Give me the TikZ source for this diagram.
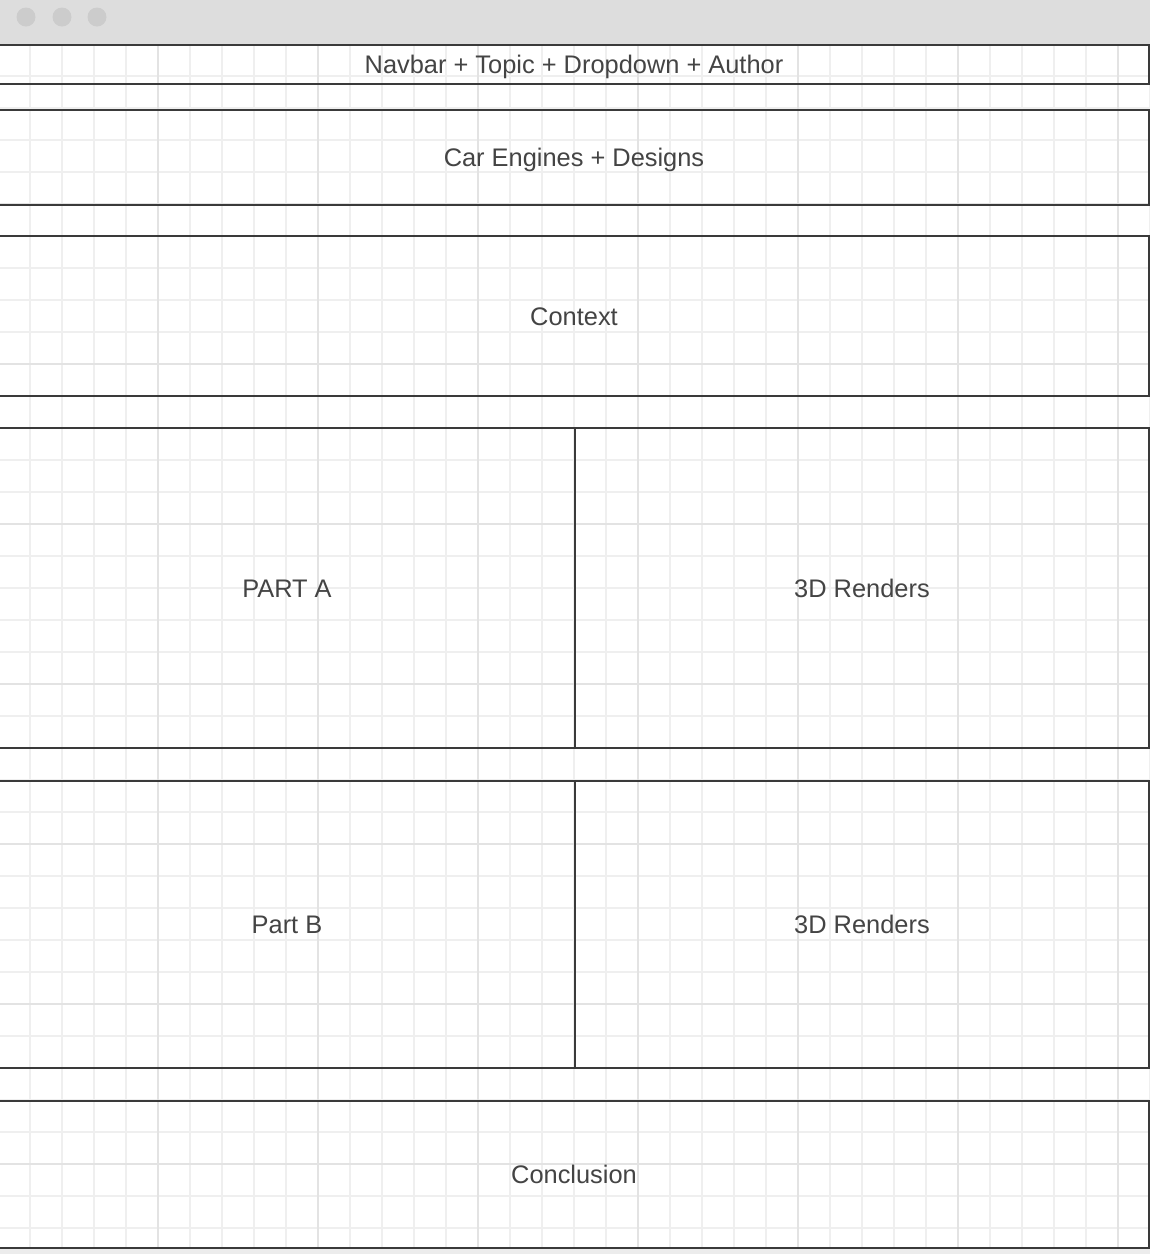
\documentclass[tikz,border=0pt]{standalone}
\usepackage{fontspec}
\setmainfont{Liberation Sans}
\definecolor{barbg}{HTML}{DDDDDD}
\definecolor{dotc}{HTML}{CCCCCC}
\definecolor{gridminor}{HTML}{EFEFEF}
\definecolor{gridmajor}{HTML}{E3E3E3}
\definecolor{boxline}{HTML}{3A3A3A}
\definecolor{txt}{HTML}{444444}
\definecolor{bottomstrip}{HTML}{ECECEC}
\tikzset{
  panel/.style={draw=boxline, line width=1.2pt, inner sep=0pt, text=txt,
    font=\fontsize{25.4}{30}\selectfont, text height=18.2pt, text depth=0pt},
  dot/.style={circle, fill=dotc, inner sep=0pt, minimum size=19pt},
}
\begin{document}
\begin{tikzpicture}[x=1pt,y=-1pt]
\useasboundingbox (0,0) rectangle (1150,1254);
\fill[white] (0,0) rectangle (1150,1254);
% grid
\begin{scope}
\clip (0,44) rectangle (1150,1249);
\foreach \k in {0,...,36} {
  \draw[gridminor, line width=1.4pt] ({-2+32*\k},44) -- ({-2+32*\k},1249);
}
\foreach \k in {0,...,37} {
  \draw[gridminor, line width=1.4pt] (0,{44+32*\k}) -- (1150,{44+32*\k});
}
\foreach \k in {0,...,7} {
  \draw[gridmajor, line width=1.5pt] ({-2+160*\k},44) -- ({-2+160*\k},1249);
  \draw[gridmajor, line width=1.5pt] (0,{44+160*\k}) -- (1150,{44+160*\k});
}
\end{scope}
% window chrome
\fill[barbg] (0,0) rectangle (1150,44.5);
\fill[bottomstrip] (0,1249) rectangle (1150,1254);
\node[dot] (d1) at (26,17) {};
\node[dot] (d2) at (62,17) {};
\node[dot] (d3) at (97,17) {};
% panels
\node[panel, minimum width=1150pt, minimum height=39pt] (navbar) at (574,64.5) {Navbar + Topic + Dropdown + Author};
\node[panel, minimum width=1150pt, minimum height=95pt] (engines) at (574,157.5) {Car Engines + Designs};
\node[panel, minimum width=1150pt, minimum height=160pt] (context) at (574,316) {Context};
\node[panel, minimum width=576pt, minimum height=320pt] (parta) at (287,588) {PART A};
\node[panel, minimum width=574pt, minimum height=320pt] (rendersa) at (862,588) {3D Renders};
\node[panel, minimum width=576pt, minimum height=287pt] (partb) at (287,924.5) {Part B};
\node[panel, minimum width=574pt, minimum height=287pt] (rendersb) at (862,924.5) {3D Renders};
\node[panel, minimum width=1150pt, minimum height=147pt] (conclusion) at (574,1174.5) {Conclusion};
\end{tikzpicture}
\end{document}
